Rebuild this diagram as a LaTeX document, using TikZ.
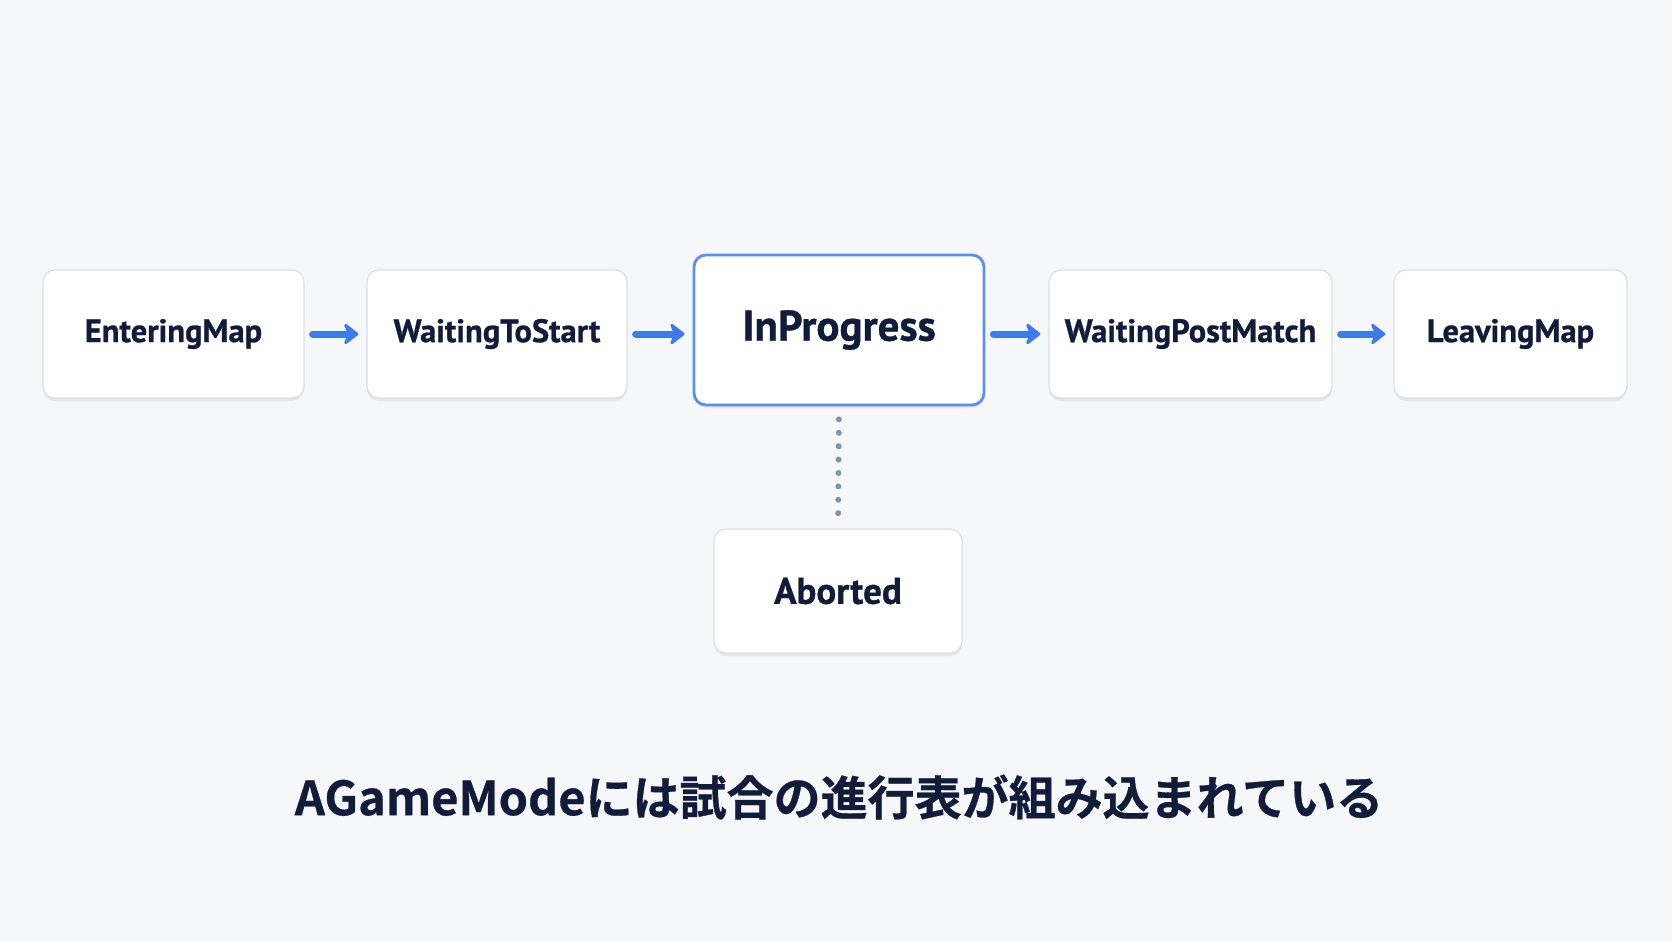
\documentclass[tikz,border=0pt]{standalone}
\usepackage{fontspec}
\setmainfont{PT Sans}
\newfontfamily\labelfont{PT Sans}[BoldFont={PT Sans Bold}, BoldFeatures={FakeBold=0.8}]
\newfontfamily\jpfont{Noto Sans CJK JP}[BoldFont={Noto Sans CJK JP Bold}, BoldFeatures={FakeBold=0.6}]
\usetikzlibrary{arrows.meta,positioning,shadows}

\definecolor{bgcol}{HTML}{F6F7F9}
\definecolor{inkcol}{HTML}{111B3A}
\definecolor{flowcol}{HTML}{3D7BEA}
\definecolor{edgecol}{HTML}{DCDFE4}
\definecolor{dotcol}{HTML}{8391B0}

\begin{document}
\begin{tikzpicture}[x=1pt,y=-1pt,
    state/.style={draw=edgecol, line width=1.2pt, fill=white, rounded corners=12pt,
      inner sep=0pt, minimum height=128pt, text=inkcol,
      font=\labelfont\bfseries\fontsize{32.5}{35}\selectfont,
      drop shadow={opacity=0.14, shadow xshift=0pt, shadow yshift=-3pt}},
    active/.style={state, draw=flowcol!85, line width=2.8pt, minimum height=150pt,
      font=\labelfont\bfseries\fontsize{43}{46}\selectfont},
    flow/.style={flowcol, line width=7pt, line cap=round,
      -{Stealth[round, length=17pt, width=26pt]}, shorten <=8pt, shorten >=8pt},
    dots/.style={dotcol, line width=6pt, line cap=round,
      dash pattern=on 0pt off 13.4pt, shorten <=13pt, shorten >=13pt}]

    % canvas
    \fill[bgcol] (0,0) rectangle (1672,941);
    \useasboundingbox (0,0) rectangle (1672,941);

    % states of the match
    \node[state, minimum width=261pt] (enter) at (173.5,334) {EnteringMap};
    \node[state, minimum width=260pt] (wait)  at (497,334) {WaitingToStart};
    \node[active, minimum width=290pt] (prog) at (839,330) {InProgress};
    \node[state, minimum width=283pt] (post)  at (1190.5,334) {WaitingPostMatch};
    \node[state, minimum width=233pt] (leave) at (1510.5,334) {LeavingMap};
    \node[state, minimum width=248pt, minimum height=124pt,
      font=\labelfont\bfseries\fontsize{37}{40}\selectfont] (abort) at (838,591) {Aborted};

    % transitions
    \draw[flow] (enter) -- (wait);
    \draw[flow] (wait.east) -- (wait.east -| prog.west);
    \draw[flow] (prog.east |- post.west) -- (post.west);
    \draw[flow] (post) -- (leave);
    \draw[dots] (prog.south) -- (abort.north);

    % caption
    \node[text=inkcol, font=\jpfont\bfseries\fontsize{47}{50}\selectfont] (caption) at (839,797)
      {AGameModeには試合の進行表が組み込まれている};
\end{tikzpicture}
\end{document}
